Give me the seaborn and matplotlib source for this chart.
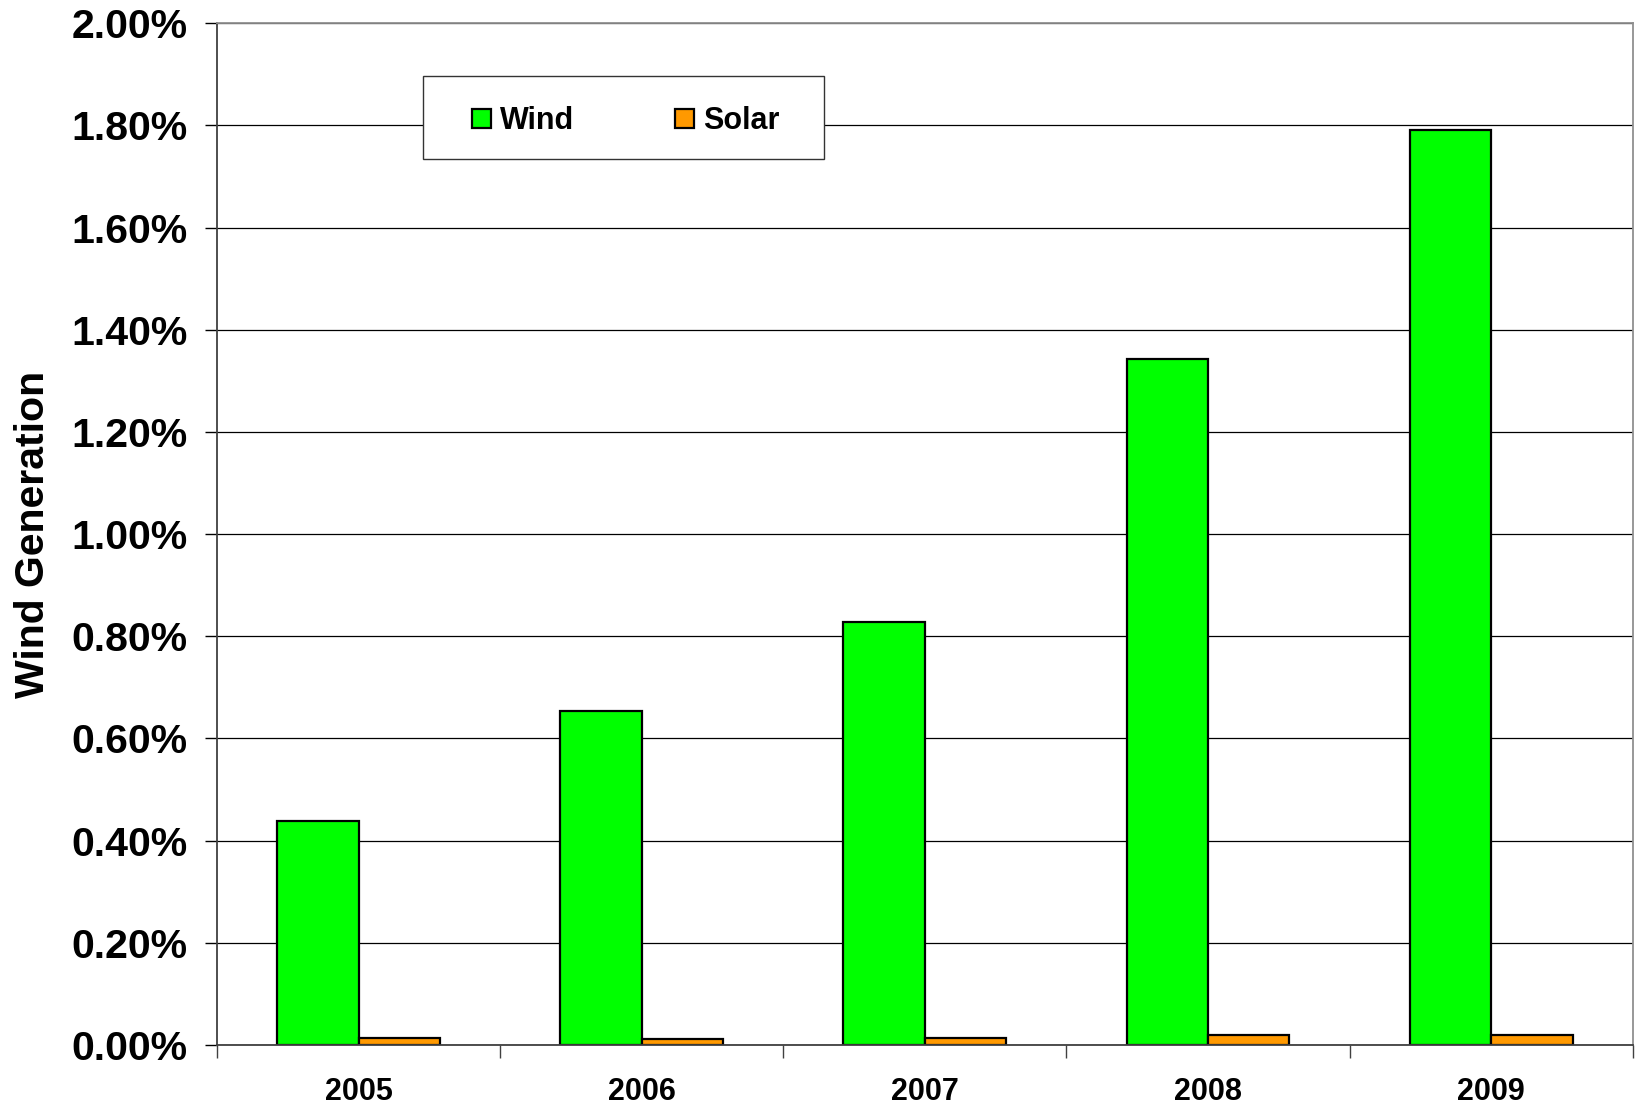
import numpy as np
import pandas as pd
import seaborn as sns
import matplotlib.pyplot as plt
from matplotlib.patches import Rectangle
from matplotlib.ticker import FuncFormatter, FixedLocator

years = ['2005', '2006', '2007', '2008', '2009']
wind = [0.439, 0.653, 0.827, 1.343, 1.790]
solar = [0.014, 0.012, 0.014, 0.020, 0.020]

df = pd.DataFrame({
    'year': years * 2,
    'share': wind + solar,
    'source': ['Wind'] * len(years) + ['Solar'] * len(years),
})

sns.set_style("white")
plt.rcParams['font.family'] = ['Liberation Sans', 'DejaVu Sans']
plt.rcParams['font.weight'] = 'bold'
plt.rcParams['text.color'] = 'black'
plt.rcParams['axes.labelcolor'] = 'black'
plt.rcParams['xtick.color'] = 'black'
plt.rcParams['ytick.color'] = 'black'

fig = plt.figure(figsize=(16.36, 11.05), dpi=100)
ax = fig.add_axes([0.1326, 0.0543, 0.8654, 0.9247])

ax.yaxis.grid(True, color='black', linewidth=0.9, zorder=0)
ax.set_axisbelow(True)

sns.barplot(data=df, x='year', y='share', hue='source',
            palette={'Wind': '#00FF00', 'Solar': '#FF9900'},
            width=0.575, gap=0, edgecolor='black', linewidth=1.6,
            saturation=1, ax=ax)

ax.set_ylim(0, 2.0)
ax.set_xlim(-0.5, len(years) - 0.5)
ax.set_yticks(np.arange(0, 2.01, 0.2))
ax.yaxis.set_major_formatter(FuncFormatter(lambda v, p: f'{v:.2f}%'))
ax.tick_params(axis='y', labelsize=29.5, length=9, width=1, color='black',
               pad=12, left=True)
ax.tick_params(axis='x', labelsize=22, length=0, pad=23)
ax.xaxis.set_minor_locator(FixedLocator(np.arange(-0.5, len(years), 1.0)))
ax.tick_params(axis='x', which='minor', length=9, width=1, color='#404040',
               bottom=True)
for lab in ax.get_xticklabels() + ax.get_yticklabels():
    lab.set_fontweight('bold')
    lab.set_color('black')

ax.set_xlabel('')
ax.set_ylabel('Wind Generation', fontsize=29.5, fontweight='bold',
              color='black', labelpad=14)

for side in ['left', 'bottom']:
    ax.spines[side].set_color('#404040')
    ax.spines[side].set_linewidth(1.3)
for side in ['top', 'right']:
    ax.spines[side].set_color('#909090')
    ax.spines[side].set_linewidth(1.3)

# legend box drawn separately so its padding matches the original
box = Rectangle((0.1455, 0.867), 0.2832, 0.081, transform=ax.transAxes,
                facecolor='white', edgecolor='#333333', linewidth=1.0,
                zorder=4)
ax.add_patch(box)

handles, labels = ax.get_legend_handles_labels()
leg = ax.legend(handles, labels, ncol=2, loc='center',
                bbox_to_anchor=(0.289, 0.904),
                fontsize=22, frameon=False, handlelength=0.62,
                handleheight=0.62, handletextpad=0.3, columnspacing=3.3,
                borderpad=0, borderaxespad=0)
leg.set_zorder(5)
for t in leg.get_texts():
    t.set_fontweight('bold')
    t.set_color('black')

fig.savefig('out.png', dpi=100)
